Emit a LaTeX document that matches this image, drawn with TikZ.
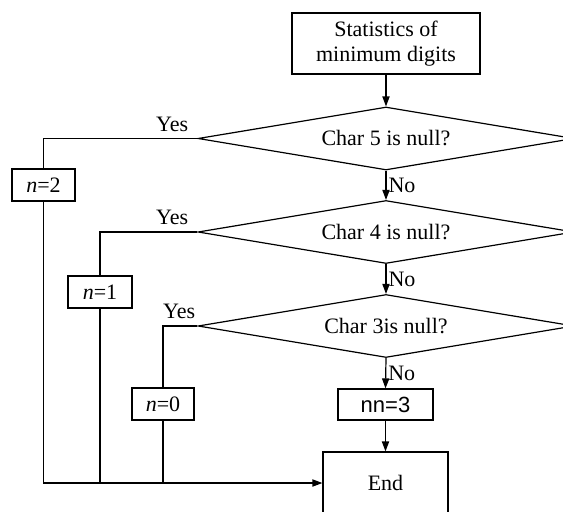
\documentclass[tikz,border=0pt]{standalone}
\usepackage{fontspec}
\setmainfont{Liberation Serif}
\newfontfamily\arialfont{Liberation Sans}
\usetikzlibrary{shapes.geometric,arrows.meta}

\begin{document}
\begin{tikzpicture}[x=0.5pt,y=-0.5pt,line width=0.6pt,
  font=\fontsize{11}{12.5}\selectfont,
  box/.style={draw,rectangle,inner sep=0pt,align=center},
  test/.style={draw,diamond,aspect=6,inner sep=0pt,minimum width=188pt,minimum height=31.5pt},
  arr/.style={-{Triangle[length=5pt,width=3.6pt]}}]
\useasboundingbox (0,0) rectangle (563,511);
\node [box,minimum width=94pt,minimum height=30.5pt] (stat) at (386,43.5) {Statistics of\\minimum digits};
\node [test] (c5) at (386,138.5) {Char 5 is null?};
\node [test] (c4) at (386,232) {Char 4 is null?};
\node [test] (c3) at (386,326) {Char 3is null?};
\node [box,minimum width=31.5pt,minimum height=16pt] (n2) at (43.5,185) {\textit{n}=2};
\node [box,minimum width=32pt,minimum height=16pt] (n1) at (100,292) {\textit{n}=1};
\node [box,minimum width=31pt,minimum height=16pt] (n0) at (163,404) {\textit{n}=0};
\node [box,minimum width=47.5pt,minimum height=15.5pt] (n3) at (385.5,404.5) {\arialfont nn=3};
\node [box,minimum width=62.5pt,minimum height=31pt] (end) at (385.5,483) {End};
\draw [arr] (stat) -- (c5);
\draw [arr] (c5.south) -- node [right,inner sep=1pt] {No} (c4.north);
\draw [arr] (c4.south) -- node [right,inner sep=1pt] {No} (c3.north);
\draw [arr] (c3.south) -- node [right,inner sep=1pt] {No} (n3.north);
\draw [arr] (n3) -- (end);
\draw (c5.west) -| (n2.north);
\draw (c4.west) -| (n1.north);
\draw (c3.west) -| (n0.north);
\node [above left] at ([xshift=-1pt]c5.west) {Yes};
\node [above left] at ([xshift=-1pt]c4.west) {Yes};
\node [above left] at ([xshift=2.5pt]c3.west) {Yes};
\draw [arr] (n2.south) |- (end.west);
\draw (n1.south) -- (n1 |- end.west);
\draw (n0.south) -- (n0 |- end.west);
\end{tikzpicture}
\end{document}
